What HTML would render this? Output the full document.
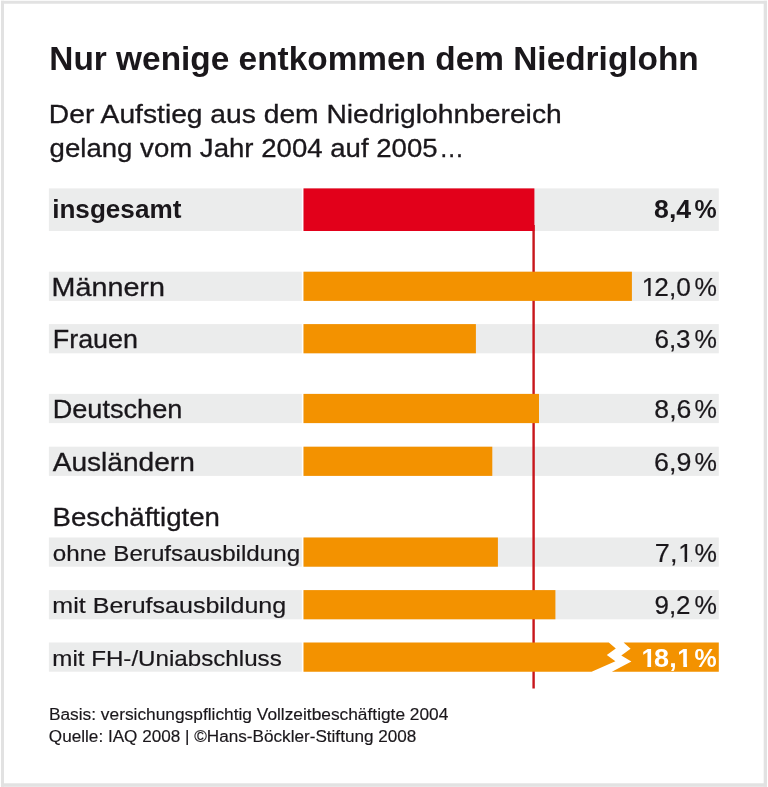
<!DOCTYPE html>
<html lang="de">
<head>
<meta charset="utf-8">
<title>Nur wenige entkommen dem Niedriglohn</title>
<style>
html,body{margin:0;padding:0;background:#fff;}
body{width:768px;height:787px;overflow:hidden;}
svg{display:block;}
text{font-family:"Liberation Sans",Arial,Helvetica,sans-serif;fill:#1a171b;stroke:#1a171b;stroke-width:0.3px;}
.b{font-weight:bold;stroke:none;}
</style>
</head>
<body>
<svg width="768" height="787" viewBox="0 0 768 787">
<rect x="0" y="0" width="768" height="787" fill="#fff"/>
<!-- frame -->
<g fill="#e2e2e2">
<rect x="1" y="0.8" width="766" height="2.95"/>
<rect x="1" y="783.3" width="766" height="3.5"/>
<rect x="1" y="0.8" width="3" height="786"/>
<rect x="763.7" y="0.8" width="3.3" height="786"/>
</g>

<!-- heading -->
<text class="b" x="49.33" y="70" font-size="33" textLength="649.44" lengthAdjust="spacingAndGlyphs">Nur wenige entkommen dem Niedriglohn</text>
<text x="48.85" y="123" font-size="25.4" textLength="512.85" lengthAdjust="spacingAndGlyphs">Der Aufstieg aus dem Niedriglohnbereich</text>
<text y="157" font-size="25.4"><tspan x="49.6" textLength="388.02" lengthAdjust="spacingAndGlyphs">gelang vom Jahr 2004 auf 2005</tspan><tspan x="439.2" textLength="24.78" lengthAdjust="spacingAndGlyphs">…</tspan></text>
<!-- grey row backgrounds -->
<g fill="#ebecec">
<rect x="48.9" y="188.4" width="252.9" height="42.6"/>
<rect x="303.5" y="188.4" width="415.3" height="42.6"/>
<rect x="48.9" y="271.7" width="252.9" height="29.2"/>
<rect x="303.5" y="271.7" width="415.3" height="29.2"/>
<rect x="48.9" y="324.1" width="252.9" height="29.2"/>
<rect x="303.5" y="324.1" width="415.3" height="29.2"/>
<rect x="48.9" y="393.9" width="252.9" height="29.2"/>
<rect x="303.5" y="393.9" width="415.3" height="29.2"/>
<rect x="48.9" y="446.7" width="252.9" height="29.2"/>
<rect x="303.5" y="446.7" width="415.3" height="29.2"/>
<rect x="48.9" y="537.5" width="252.9" height="29.2"/>
<rect x="303.5" y="537.5" width="415.3" height="29.2"/>
<rect x="48.9" y="590.1" width="252.9" height="29.2"/>
<rect x="303.5" y="590.1" width="415.3" height="29.2"/>
<rect x="48.9" y="642.5" width="252.9" height="29.2"/>
</g>
<!-- reference line -->
<rect x="532.4" y="225" width="2.4" height="463.5" fill="#c8161c"/>
<!-- bars -->
<rect x="303.5" y="188.4" width="230.9" height="42.6" fill="#e2001a"/>
<g fill="#f39200">
<rect x="303.5" y="271.7" width="328.4" height="29.2"/>
<rect x="303.5" y="324.1" width="172.4" height="29.2"/>
<rect x="303.5" y="393.9" width="235.5" height="29.2"/>
<rect x="303.5" y="446.7" width="188.8" height="29.2"/>
<rect x="303.5" y="537.5" width="194.4" height="29.2"/>
<rect x="303.5" y="590.1" width="251.9" height="29.2"/>
<polygon points="303.5,642.5 608.8,642.5 615.8,648.4 606.8,655 615.4,661.3 591.6,671.7 303.5,671.7"/>
<polygon points="623.6,642.5 718.8,642.5 718.8,671.7 611.9,671.7 631.4,661.6 621.3,655.4 630.6,648.8"/>
</g>
<!-- labels -->
<text class="b" x="52.15" y="218" font-size="25.4" textLength="129.22" lengthAdjust="spacingAndGlyphs">insgesamt</text>
<text x="51.59" y="296" font-size="25.4" textLength="113.33" lengthAdjust="spacingAndGlyphs">Männern</text>
<text x="52.78" y="348" font-size="25.4" textLength="85.17" lengthAdjust="spacingAndGlyphs">Frauen</text>
<text x="52.65" y="418" font-size="25.4" textLength="129.74" lengthAdjust="spacingAndGlyphs">Deutschen</text>
<text x="52.67" y="471" font-size="25.4" textLength="142.19" lengthAdjust="spacingAndGlyphs">Ausländern</text>
<text x="52.62" y="526" font-size="25.4" textLength="167.27" lengthAdjust="spacingAndGlyphs">Beschäftigten</text>
<text x="52.76" y="561" font-size="22.2" textLength="247.42" lengthAdjust="spacingAndGlyphs" style="stroke-width:0.2px">ohne Berufsausbildung</text>
<text x="52.37" y="613" font-size="22.2" textLength="233.81" lengthAdjust="spacingAndGlyphs" style="stroke-width:0.2px">mit Berufsausbildung</text>
<text x="52.27" y="666" font-size="22.2" textLength="229.46" lengthAdjust="spacingAndGlyphs" style="stroke-width:0.2px">mit FH-/Uniabschluss</text>
<!-- values -->
<text class="b" y="218" font-size="25.8"><tspan x="654.13" textLength="37.08" lengthAdjust="spacingAndGlyphs">8,4</tspan> <tspan x="694.54" textLength="22.19" lengthAdjust="spacingAndGlyphs">%</tspan></text>
<text y="296" font-size="25.8" style="stroke-width:0.2px"><tspan x="641.73" textLength="14.36" lengthAdjust="spacingAndGlyphs">1</tspan><tspan x="654.35" textLength="36.46" lengthAdjust="spacingAndGlyphs">2,0</tspan> <tspan x="694.4" textLength="22.42" lengthAdjust="spacingAndGlyphs">%</tspan></text>
<rect x="642.70" y="293.67" width="5.42" height="3.33" fill="#ebecec"/><rect x="650.60" y="293.67" width="4.42" height="3.33" fill="#ebecec"/>
<text y="348" font-size="25.8" style="stroke-width:0.2px"><tspan x="654.41" textLength="36.21" lengthAdjust="spacingAndGlyphs">6,3</tspan> <tspan x="694.4" textLength="22.42" lengthAdjust="spacingAndGlyphs">%</tspan></text>
<text y="418" font-size="25.8" style="stroke-width:0.2px"><tspan x="654.36" textLength="36.99" lengthAdjust="spacingAndGlyphs">8,6</tspan> <tspan x="694.4" textLength="22.42" lengthAdjust="spacingAndGlyphs">%</tspan></text>
<text y="471" font-size="25.8" style="stroke-width:0.2px"><tspan x="654.05" textLength="37.28" lengthAdjust="spacingAndGlyphs">6,9</tspan> <tspan x="694.4" textLength="22.42" lengthAdjust="spacingAndGlyphs">%</tspan></text>
<text y="562" font-size="25.8" style="stroke-width:0.2px"><tspan x="654.87" textLength="22.57" lengthAdjust="spacingAndGlyphs">7,</tspan><tspan x="678.2" textLength="14.36" lengthAdjust="spacingAndGlyphs">1</tspan> <tspan x="694.4" textLength="22.42" lengthAdjust="spacingAndGlyphs">%</tspan></text>
<rect x="679.17" y="559.67" width="5.42" height="3.33" fill="#ebecec"/><rect x="687.07" y="559.67" width="4.42" height="3.33" fill="#ebecec"/>
<text y="614" font-size="25.8" style="stroke-width:0.2px"><tspan x="654.47" textLength="36.09" lengthAdjust="spacingAndGlyphs">9,2</tspan> <tspan x="694.4" textLength="22.42" lengthAdjust="spacingAndGlyphs">%</tspan></text>
<text class="b" y="667" font-size="25.8" style="fill:#fff"><tspan x="641.44" textLength="14.36" lengthAdjust="spacingAndGlyphs">1</tspan><tspan x="654.11" textLength="22.53" lengthAdjust="spacingAndGlyphs">8,</tspan><tspan x="677.37" textLength="14.36" lengthAdjust="spacingAndGlyphs">1</tspan> <tspan x="694.54" textLength="22.19" lengthAdjust="spacingAndGlyphs">%</tspan></text>
<rect x="642.07" y="663.97" width="5.30" height="4.03" fill="#f39200"/><rect x="651.10" y="663.97" width="4.17" height="4.03" fill="#f39200"/>
<rect x="678.00" y="663.97" width="5.30" height="4.03" fill="#f39200"/><rect x="687.03" y="663.97" width="4.17" height="4.03" fill="#f39200"/>
<!-- footer -->
<text x="48.9" y="720" font-size="15.6" textLength="399.5" lengthAdjust="spacingAndGlyphs" style="stroke-width:0.15px">Basis: versichungspflichtig Vollzeitbeschäftigte 2004</text>
<text x="48.88" y="742" font-size="15.6" textLength="367.47" lengthAdjust="spacingAndGlyphs" style="stroke-width:0.15px">Quelle: IAQ 2008 | ©Hans-Böckler-Stiftung 2008</text>
</svg>
</body>
</html>
